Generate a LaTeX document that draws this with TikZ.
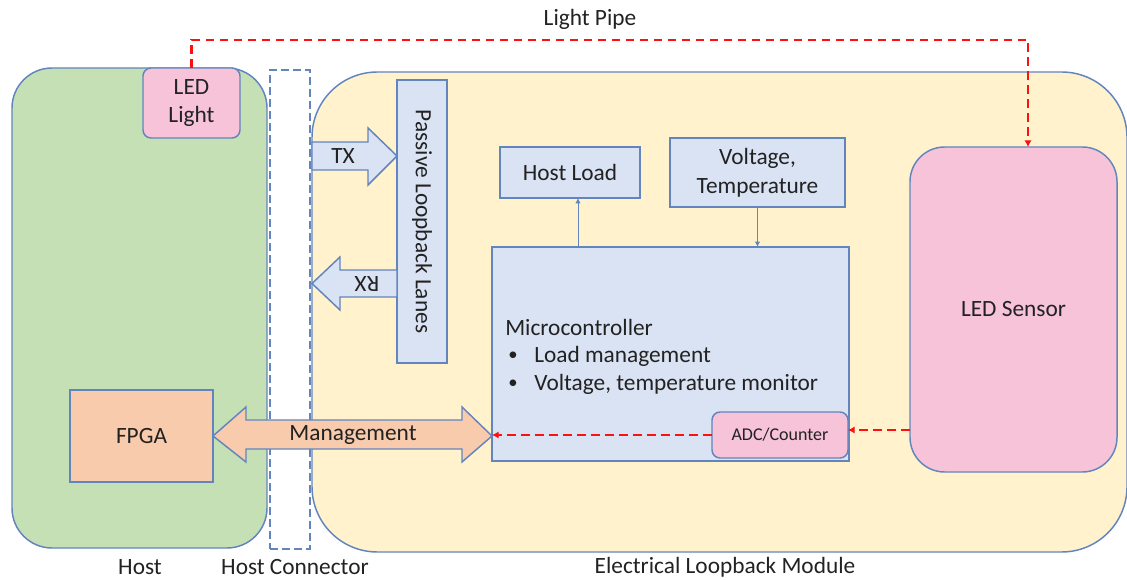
\documentclass[tikz,border=0pt]{standalone}
\usepackage{fontspec}
\setmainfont{Carlito}
\usetikzlibrary{arrows.meta,calc}
\definecolor{bd}{HTML}{6285BE}
\definecolor{grn}{HTML}{C5E0B4}
\definecolor{yel}{HTML}{FFF2CC}
\definecolor{blu}{HTML}{DAE3F3}
\definecolor{pnk}{HTML}{F6C3D8}
\definecolor{org}{HTML}{F8CBAD}
\definecolor{txt}{HTML}{222222}
\definecolor{rd}{HTML}{FF1010}
\begin{document}
\begin{tikzpicture}[x=0.75pt,y=-0.75pt,
  font=\fontsize{17.5}{21.5}\selectfont, text=txt,
  box/.style={draw=bd, line width=1.1pt, inner sep=0pt, outer sep=0pt, align=center},
  bluebox/.style={box, fill=blu},
  blockarrow/.style={draw=bd, line width=1.1pt, line join=miter},
  reddash/.style={draw=rd, line width=1.9pt, dash pattern=on 6.5pt off 4pt, -{Latex[length=5pt,width=5.5pt]}},
  thinarrow/.style={draw=bd, line width=0.7pt, -{Latex[length=4pt,width=4pt]}},
  lbl/.style={inner sep=0pt}
]
\useasboundingbox (0,0) rectangle (1127,580);

% big containers
\node[box, fill=grn, minimum width=191.25pt, minimum height=360pt, rounded corners=30pt] (host) at (139.5,308) {};
\node[box, fill=yel, minimum width=611.25pt, minimum height=360pt, rounded corners=49pt] (module) at (719.5,312) {};
\node[box, draw=bd, dash pattern=on 6pt off 3pt, minimum width=30pt, minimum height=359.25pt] (conn) at (290,309.5) {};

% host parts
\node[box, fill=pnk, minimum width=72.75pt, minimum height=52.5pt, rounded corners=6pt] (ledlight) at (191.5,103) {LED\\Light};
\node[box, fill=org, minimum width=107.25pt, minimum height=69pt] (fpga) at (141.5,436) {FPGA};

% module parts
\node[bluebox, minimum width=37.5pt, minimum height=212.25pt] (passive) at (422,221.5) {};
\node[lbl, rotate=-90] at (passive.center) {Passive Loopback Lanes};
\node[bluebox, minimum width=105pt, minimum height=38.25pt] (hostload) at (570,172.5) {Host Load};
\node[bluebox, minimum width=131.25pt, minimum height=51.75pt] (volt) at (757.5,172.5) {Voltage,\\Temperature};
\node[bluebox, minimum width=267.75pt, minimum height=160.5pt] (micro) at (670.5,354) {};
\node[lbl, anchor=west] (mctitle) at (505,327) {Microcontroller};
\node[lbl, anchor=west] (b1) at (534,356) {Load management};
\node[lbl, anchor=west] (b2) at (534,384) {Voltage, temperature monitor};
\node[lbl, font=\fontsize{14}{16}\selectfont] at (513,356) {\textbullet};
\node[lbl, font=\fontsize{14}{16}\selectfont] at (513,384) {\textbullet};
\node[box, fill=pnk, minimum width=102pt, minimum height=34.5pt, rounded corners=6pt, font=\fontsize{13.5}{16}\selectfont] (adc) at (780,435) {ADC/Counter};
\node[box, fill=pnk, minimum width=155.25pt, minimum height=243.75pt, rounded corners=26pt] (ledsensor) at (1013.5,309.5) {LED Sensor};

% TX / RX block arrows
\draw[blockarrow, fill=blu] (312,142) -- (368,142) -- (368,128) -- (397,156) -- (368,185) -- (368,170) -- (312,170) -- cycle;
\node[lbl] (tx) at (343,156) {TX};
\draw[blockarrow, fill=blu] (397,270) -- (340,270) -- (340,257) -- (312,283.5) -- (340,310) -- (340,297) -- (397,297) -- cycle;
\node[lbl, rotate=180] (rx) at (367,283.5) {RX};

% Management double arrow
\draw[blockarrow, fill=org] (fpga.east) -- (246,407) -- (246,420) -- (462,420) -- (462,407) -- (micro.west |- fpga.east) -- (462,462) -- (462,449) -- (246,449) -- (246,462) -- cycle;
\node[lbl] (mgmt) at (353,435) {Management};

% thin arrows
\draw[thinarrow] ([xshift=6pt]micro.north -| hostload.south) -- ([xshift=6pt]hostload.south);
\draw[thinarrow] (volt.south) -- (volt.south |- micro.north);

% light pipe
\coordinate (lp) at (1028,40);
\draw[reddash] (ledlight.north) |- (lp) -- (lp |- ledsensor.north);
\node[lbl] (lptext) at (590,19) {Light Pipe};
\draw[reddash] (ledsensor.west |- 0,430) -- (adc.east |- 0,430);
\draw[reddash] (adc.west) -- (micro.west |- adc.west);

% bottom labels
\node[lbl] (lhost) at (140,567) {Host};
\node[lbl] (lconn) at (295,567) {Host Connector};
\node[lbl] (lmod) at (725,567) {Electrical Loopback Module};
\end{tikzpicture}
\end{document}
